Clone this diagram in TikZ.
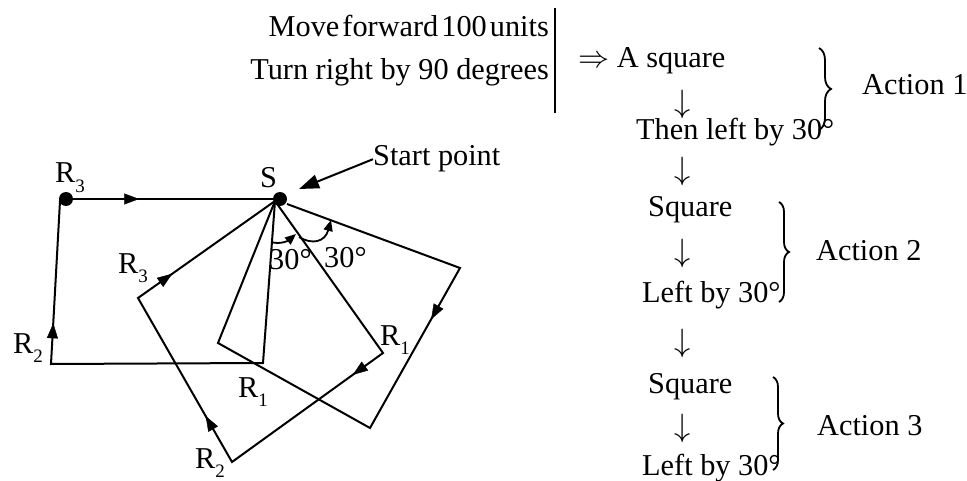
\documentclass[tikz,border=0pt]{standalone}
\usepackage{fontspec}
\setmainfont{Liberation Serif}
\usetikzlibrary{arrows.meta,decorations.markings,decorations.pathreplacing}
\newcommand\rsub[1]{\raisebox{-0.3em}{\fontsize{19}{19}\selectfont #1}}
\begin{document}
\begin{tikzpicture}[x=1pt,y=-1pt,
  txt/.style={inner sep=0pt,font=\fontsize{30.3}{34}\selectfont},
  fig/.style={line width=2pt,line join=miter},
  dot/.style={circle,fill=black,inner sep=0pt,minimum size=14pt},
  midarr/.style={postaction={decorate},decoration={markings,mark=at position #1 with {\arrow{Triangle[length=15pt,width=11pt]}}}},
  brc/.style={decorate,decoration={brace,amplitude=#1},line width=1.8pt},
  ang/.style={line width=1.8pt,-{Triangle[length=11pt,width=9pt]}},
  dn/.style={inner sep=0pt,font=\fontsize{24.88}{26}\selectfont,scale=1.3},
]
\useasboundingbox (0,0) rectangle (967,481);

% ---------- figure ----------
\coordinate (H) at (275,201);
\coordinate (Sr) at (287,204);
\coordinate (A1) at (263,363);
\coordinate (A2) at (51,364);
\coordinate (A3) at (60,201);
\coordinate (C1) at (383,353);
\coordinate (C2) at (232,462);
\coordinate (C3) at (138,298);
\coordinate (B1) at (218,343);
\coordinate (B2) at (370,428);
\coordinate (B3) at (460,268);

\node[dot] (S) at (280,199) {};
\node[dot] (R3d) at (66,199) {};

\draw[fig] (H) -- (A1) -- (A2) -- (A3) -- (R3d.center);
\draw[fig,line width=2.6pt] (R3d) -- (S);
\draw[fig] (H) -- (C1) -- (C2) -- (C3) -- cycle;
\draw[fig] (Sr) -- (B3) -- (B2) -- (B1) -- (H);

\path[midarr=0.25] (A2) -- (A3);
\path[midarr=0.33] (R3d) -- (S);
\path[midarr=0.2] (C1) -- (C2);
\path[midarr=0.28] (C2) -- (C3);
\path[midarr=0.25] (C3) -- (H);
\path[midarr=0.32] (B3) -- (B2);

% angle arcs
\coordinate (a1s) at (271,242);
\coordinate (a1e) at (296,234);
\coordinate (a2s) at (299,237);
\coordinate (a2e) at (331,220);
\draw[ang] (a1s) .. controls (281,245) and (289,240) .. (a1e);
\draw[ang] (a2s) .. controls (312,245) and (325,242) .. (a2e);
\node[txt,anchor=base west] (d1) at (269,270) {30°};
\node[txt,anchor=base west] (d2) at (324,268) {30°};

% labels
\node[txt,anchor=base west] (lS) at (260,188) {S};
\node[txt,anchor=base west] (lR3a) at (55,183) {R\rsub{3}};
\node[txt,anchor=base west] (lR2a) at (13,353) {R\rsub{2}};
\node[txt,anchor=base west] (lR1a) at (238,397) {R\rsub{1}};
\node[txt,anchor=base west] (lR3c) at (118,273) {R\rsub{3}};
\node[txt,anchor=base west] (lR1c) at (380,345) {R\rsub{1}};
\node[txt,anchor=base west] (lR2c) at (195,468) {R\rsub{2}};

% start point
\node[txt,anchor=base west] (sp) at (373,166) {Start point};
\coordinate (spt) at (299,189);
\draw[line width=2pt,-{Triangle[length=20pt,width=14pt]}] (sp.west) -- (spt);

% ---------- text column ----------
\node[txt,anchor=base east] (mv) at (549,37) {\spaceskip=0.1em Move forward 100 units};
\node[txt,anchor=base east] (tr) at (549,80) {Turn right by 90 degrees};
\draw[line width=1.5pt] (555,8) -- (555,113);

\node[txt,anchor=base west] (sq1) at (578,68) {\scalebox{1.25}{$\Rightarrow$} A square};
\node[dn] (ar1) at (683,104) {$\downarrow$};
\node[txt,anchor=base west] (then1) at (636,140) {Then left by 30°};
\node[dn] (ar2) at (683,171) {$\downarrow$};
\node[txt,anchor=base west] (sq2) at (648,217) {Square};
\node[dn] (ar3) at (683,253) {$\downarrow$};
\node[txt,anchor=base west] (lf2) at (642,302) {Left by 30°};
\node[dn] (ar4) at (683,343) {$\downarrow$};
\node[txt,anchor=base west] (sq3) at (648,393) {Square};
\node[dn] (ar5) at (683,428) {$\downarrow$};
\node[txt,anchor=base west] (lf3) at (642,475) {Left by 30°};

\draw[brc=12pt] (819,48) -- (819,130);
\draw[brc=10pt] (779,202) -- (779,302);
\draw[brc=10pt] (773,377) -- (773,470);

\node[txt,anchor=base west] (act1) at (862,95) {Action 1};
\node[txt,anchor=base west] (act2) at (816,261) {Action 2};
\node[txt,anchor=base west] (act3) at (817,435) {Action 3};
\end{tikzpicture}
\end{document}
